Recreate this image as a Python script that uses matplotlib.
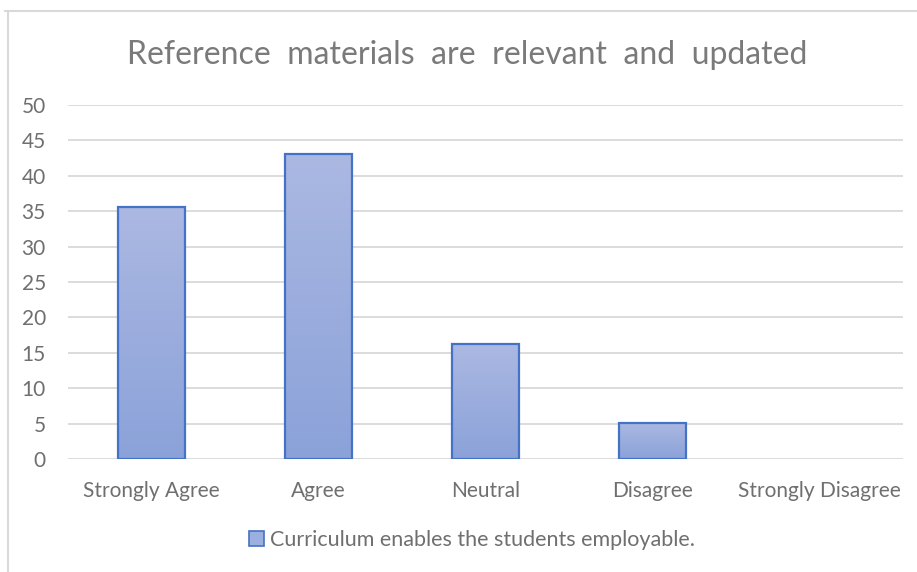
import numpy as np
import matplotlib
matplotlib.use("Agg")
import matplotlib.pyplot as plt
from matplotlib.patches import Patch
from matplotlib.lines import Line2D

categories = ["Strongly Agree", "Agree", "Neutral", "Disagree", "Strongly Disagree"]
values = [35.6, 43.1, 16.2, 5.1, 0]
series_name = "Curriculum enables the students employable."
title = "Reference  materials  are  relevant  and  updated"

plt.rcParams['font.family'] = ['Lato', 'DejaVu Sans']
grey = "#6f6f6f"
edge = "#4472c4"

fig = plt.figure(figsize=(9.17, 5.72), dpi=100)
ax = fig.add_axes([68 / 917, 1 - 459 / 572, 835 / 917, 354 / 572])

x = np.arange(len(categories))
bars = ax.bar(x, values, width=0.4, facecolor="none", edgecolor=edge, linewidth=1.6, zorder=3)

# gradient fill inside each bar, lighter at the top
grad = np.linspace(0, 1, 100).reshape(-1, 1)
top = np.array([171, 184, 226]) / 255
bot = np.array([139, 162, 217]) / 255
img = bot + (top - bot) * grad[:, :, None]
for b in bars:
    if b.get_height() <= 0:
        b.set_visible(False)
        continue
    im = ax.imshow(img, extent=[b.get_x(), b.get_x() + b.get_width(), 0, b.get_height()],
                   origin="lower", aspect="auto", zorder=2)
    im.set_clip_path(b)

ax.set_xlim(-0.5, 4.5)
ax.set_ylim(0, 50)
ax.set_yticks(range(0, 51, 5))
ax.set_xticks(x)
ax.set_xticklabels(categories)
ax.grid(axis="y", color="#d9d9d9", linewidth=1.3, zorder=0)
ax.set_axisbelow(True)
for s in ax.spines.values():
    s.set_visible(False)
ax.tick_params(length=0, labelsize=15, labelcolor=grey)
ax.tick_params(axis="x", pad=16)
ax.tick_params(axis="y", pad=16)

fig.text(0.509, 1 - 55 / 572, title, ha="center", va="center", fontsize=23, color="#7a7a7a")

handle = Patch(facecolor="#9bb0e0", edgecolor=edge, linewidth=1.2)
fig.legend([handle], [series_name], loc="center", bbox_to_anchor=(472 / 917, 1 - 540 / 572),
           frameon=False, fontsize=15.5, labelcolor=grey, handlelength=0.7, handleheight=0.7,
           handletextpad=0.3)

# chart border
fig.add_artist(Line2D([5 / 917, 1], [1 - 11 / 572, 1 - 11 / 572], color="#d9d9d9", lw=1.5))
fig.add_artist(Line2D([8 / 917, 8 / 917], [0, 1 - 11 / 572], color="#d9d9d9", lw=1.5))

fig.savefig("out.png", dpi=100)
